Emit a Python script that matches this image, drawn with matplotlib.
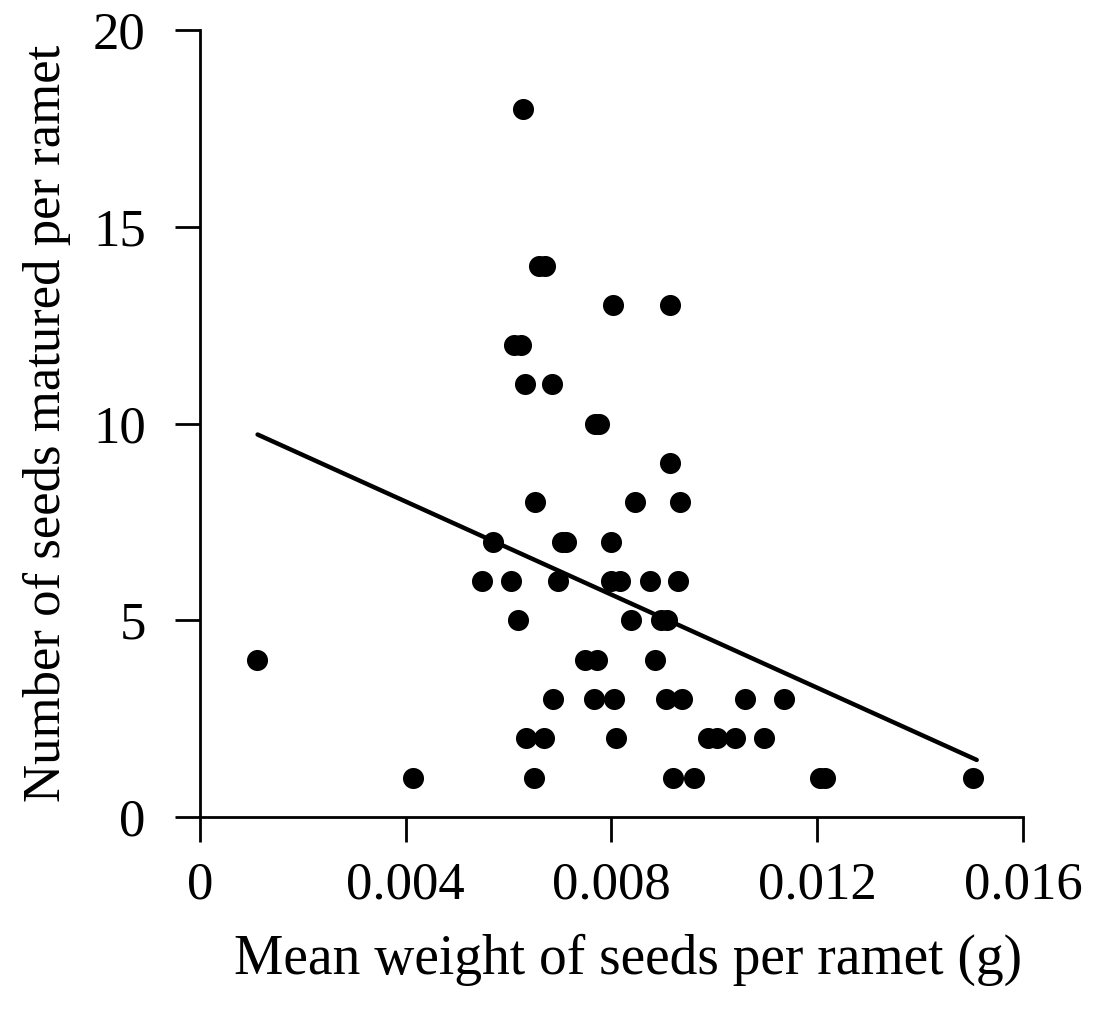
import matplotlib
matplotlib.use("Agg")
import matplotlib.pyplot as plt

# Data
seed_weight = [
    0.00628,
    0.00660, 0.00670,
    0.00803, 0.00913,
    0.00611, 0.00625,
    0.00632, 0.00685,
    0.00768, 0.00776,
    0.00913,
    0.00652, 0.00846, 0.00933,
    0.00570, 0.00703, 0.00712, 0.00799,
    0.00549, 0.00605, 0.00696, 0.00799, 0.00816, 0.00875, 0.00929,
    0.00619, 0.00838, 0.00897, 0.00908,
    0.00111, 0.00749, 0.00772, 0.00884,
    0.00687, 0.00766, 0.00805, 0.00906, 0.00937, 0.01059, 0.01135,
    0.00634, 0.00669, 0.00809, 0.00987, 0.01005, 0.01040, 0.01096,
    0.00415, 0.00650, 0.00919, 0.00960, 0.01205, 0.01215, 0.01503,
]
seeds_matured = [
    18,
    14, 14,
    13, 13,
    12, 12,
    11, 11,
    10, 10,
    9,
    8, 8, 8,
    7, 7, 7, 7,
    6, 6, 6, 6, 6, 6, 6,
    5, 5, 5, 5,
    4, 4, 4, 4,
    3, 3, 3, 3, 3, 3, 3,
    2, 2, 2, 2, 2, 2, 2,
    1, 1, 1, 1, 1, 1, 1,
]
fit_x = [0.00112, 0.01510]
fit_y = [9.72, 1.45]

x_ticks = [0, 0.004, 0.008, 0.012, 0.016]
x_tick_labels = ["0", "0.004", "0.008", "0.012", "0.016"]
y_ticks = [0, 5, 10, 15, 20]
y_tick_labels = ["0", "5", "10", "15", "20"]

plt.rcParams['font.family'] = ['Liberation Serif', 'DejaVu Serif']

fig = plt.figure(figsize=(11.11, 10.11), dpi=100)
ax = fig.add_axes([0.180, 0.1919, 0.7408, 0.7784])

ax.scatter(seed_weight, seeds_matured, s=230, color='black', zorder=3, linewidths=0)
ax.plot(fit_x, fit_y, color='black', lw=3.2, zorder=2, solid_capstyle='round')

ax.set_xlim(0, 0.016)
ax.set_ylim(0, 20)
ax.set_xticks(x_ticks)
ax.set_xticklabels(x_tick_labels)
ax.set_yticks(y_ticks)
ax.set_yticklabels(y_tick_labels)

for s in ['top', 'right']:
    ax.spines[s].set_visible(False)
for s in ['left', 'bottom']:
    ax.spines[s].set_linewidth(2)
    ax.spines[s].set_color('black')

ax.tick_params(axis='both', direction='out', length=18, width=2, labelsize=38, colors='black')
ax.tick_params(axis='x', pad=14)
ax.tick_params(axis='y', pad=21)

ax.set_xlabel("Mean weight of seeds per ramet (g)", fontsize=40)
ax.xaxis.set_label_coords(0.52, -0.148)
ax.set_ylabel("Number of seeds matured per ramet", fontsize=38, labelpad=16)

fig.savefig("out.png", dpi=100, facecolor='white')
